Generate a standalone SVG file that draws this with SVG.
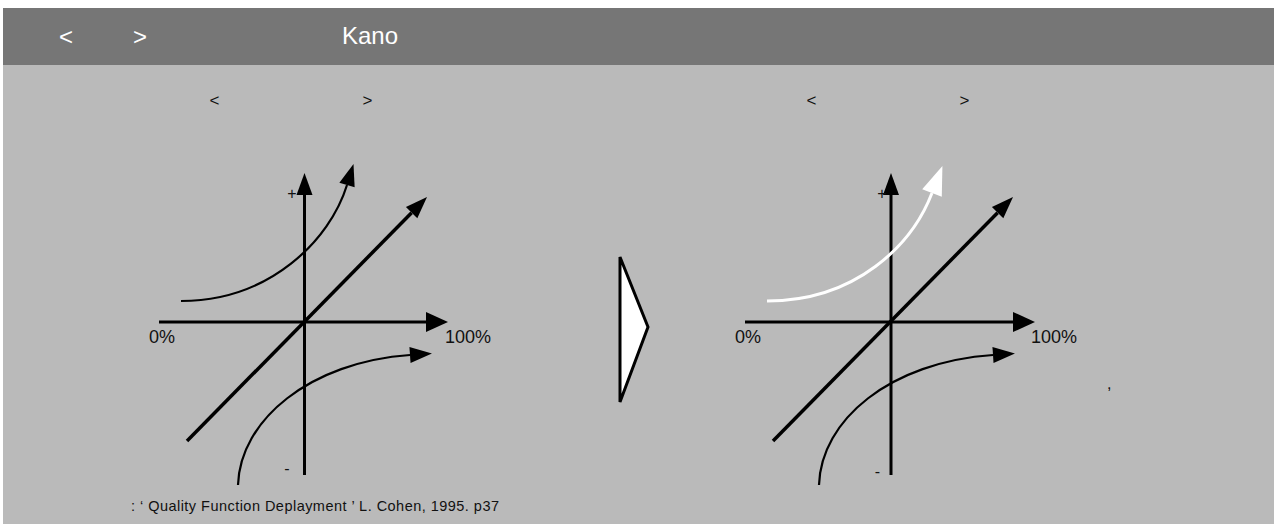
<svg xmlns="http://www.w3.org/2000/svg" width="1274" height="524" viewBox="0 0 1274 524">
<style>
.hdr{font-family:"Liberation Sans",Arial,sans-serif;font-size:24px;fill:#ffffff}
.lbl{font-family:"Liberation Sans",Arial,sans-serif;font-size:18px;fill:#111}
.sm{font-family:"Liberation Sans",Arial,sans-serif;font-size:16px;fill:#111}
.ttl{font-family:"Liberation Sans",Arial,sans-serif;font-size:17px;fill:#111;text-anchor:middle}
.cit{font-family:"Liberation Sans",Arial,sans-serif;font-size:14.5px;fill:#111}
.axis{stroke:#000;stroke-width:3;fill:none}
.diag{stroke:#000;stroke-width:3.5;fill:none}
.crv{stroke:#000;stroke-width:2.2;fill:none}
.wcrv{stroke:#fff;stroke-width:3;fill:none}
</style>
<defs>
<marker id="ah" markerUnits="userSpaceOnUse" markerWidth="24" markerHeight="22" refX="0" refY="10" orient="auto" overflow="visible">
<path d="M0,0 L22,10 L0,20 z" fill="#000"/>
</marker>
<marker id="ahs" markerUnits="userSpaceOnUse" markerWidth="24" markerHeight="18" refX="0" refY="8" orient="auto" overflow="visible">
<path d="M0,0 L22,8 L0,16 z" fill="#000"/>
</marker>
<marker id="ahw" markerUnits="userSpaceOnUse" markerWidth="30" markerHeight="22" refX="0" refY="10.5" orient="auto" overflow="visible">
<path d="M0,0 L29,10.5 L0,21 z" fill="#fff"/>
</marker>
</defs>
<rect x="0" y="0" width="1274" height="524" fill="#ffffff"/>
<rect x="3" y="65" width="1271" height="459" fill="#bababa"/>
<g id="header">
<rect x="3" y="8" width="1271" height="57" fill="#767676"/>
<text class="hdr" x="66" y="45" text-anchor="middle">&lt;</text>
<text class="hdr" x="140" y="45" text-anchor="middle">&gt;</text>
<text class="hdr" x="342" y="44">Kano</text>
</g>
<g id="left-title">
<text class="ttl" x="214.5" y="106">&lt;</text>
<text class="ttl" x="367.5" y="106">&gt;</text>
</g>
<g id="right-title">
<text class="ttl" x="811.5" y="106">&lt;</text>
<text class="ttl" x="964.5" y="106">&gt;</text>
</g>
<g id="connectors">
<!-- left chart -->
<line class="axis" x1="159" y1="322" x2="426" y2="322" marker-end="url(#ah)"/>
<line class="axis" x1="304.5" y1="475" x2="304.5" y2="195" marker-end="url(#ahs)"/>
<line class="diag" x1="187" y1="441" x2="411.6" y2="212.7" marker-end="url(#ahs)"/>
<path class="crv" d="M181,301 C270,301 330,240 347,185" marker-end="url(#ahs)"/>
<path class="crv" d="M238,485 C240,420 310,362 410,355" marker-end="url(#ahs)"/>
<!-- right chart -->
<line class="axis" x1="745" y1="322" x2="1013" y2="322" marker-end="url(#ah)"/>
<line class="axis" x1="891" y1="475" x2="891" y2="195" marker-end="url(#ahs)"/>
<line class="diag" x1="773" y1="441" x2="997.6" y2="212.7" marker-end="url(#ahs)"/>
<path class="wcrv" d="M767,301 C856,301 912,245 932,193" marker-end="url(#ahw)"/>
<path class="crv" d="M819,485 C821,420 890,362 993,355" marker-end="url(#ahs)"/>
</g>
<g id="left-labels">
<text class="sm" x="292" y="199" text-anchor="middle">+</text>
<text class="sm" x="287" y="474" text-anchor="middle">-</text>
<text class="lbl" x="149" y="343">0%</text>
<text class="lbl" x="445" y="343">100%</text>
</g>
<g id="arrow">
<polygon points="620,257 648,327 620,402" fill="#ffffff" stroke="#000" stroke-width="3"/>
</g>
<g id="right-labels">
<text class="sm" x="882" y="199" text-anchor="middle">+</text>
<text class="sm" x="877.5" y="477" text-anchor="middle">-</text>
<text class="lbl" x="735" y="343">0%</text>
<text class="lbl" x="1031" y="343">100%</text>
<text class="sm" x="1107" y="389">,</text>
</g>
<g id="citation">
<text class="cit" x="131" y="511" textLength="368" lengthAdjust="spacing">: ‘ Quality Function Deplayment ’ L. Cohen, 1995. p37</text>
</g>
</svg>
